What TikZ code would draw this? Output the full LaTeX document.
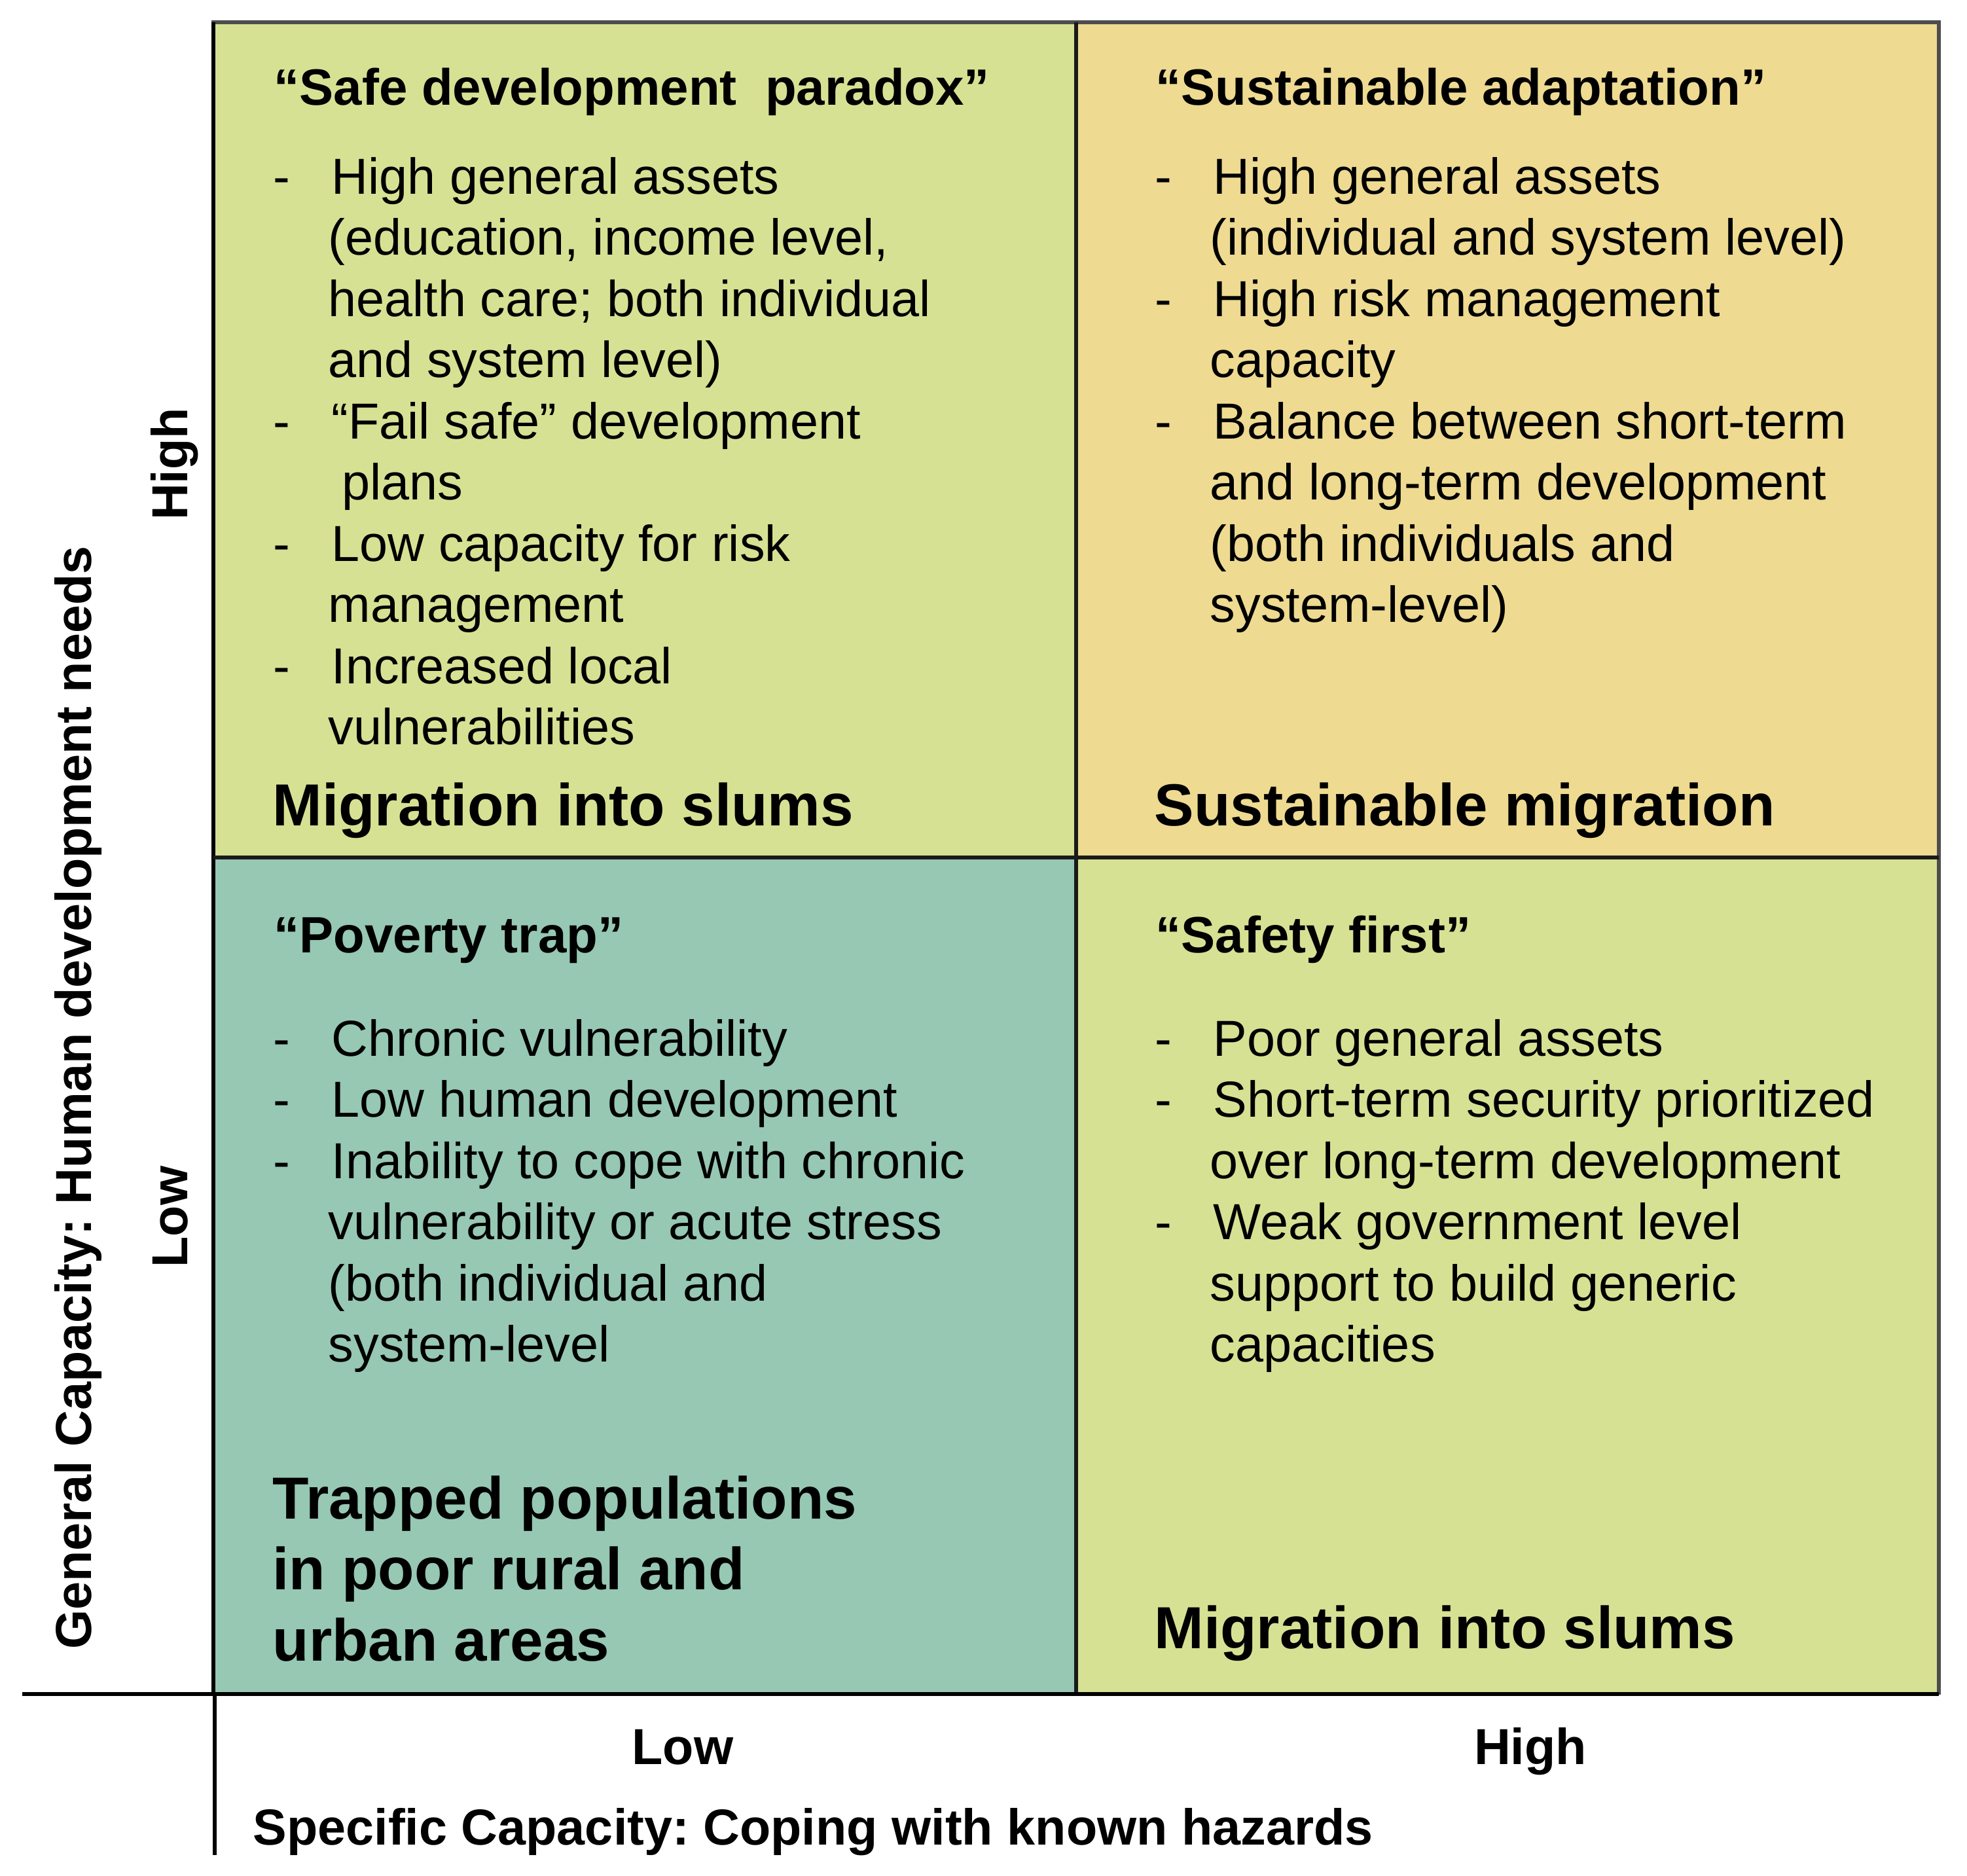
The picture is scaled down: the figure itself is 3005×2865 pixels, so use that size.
\documentclass[tikz,border=0pt]{standalone}
\usepackage{fontspec}
\setmainfont{Liberation Sans}
\frenchspacing
\definecolor{cgreen}{RGB}{215,225,147}
\definecolor{cyellow}{RGB}{238,218,145}
\definecolor{cteal}{RGB}{150,200,180}
\definecolor{cgray}{RGB}{77,77,77}
\definecolor{cdark}{RGB}{26,26,26}
\begin{document}
\frenchspacing
\begin{tikzpicture}[x=0.01cm,y=-0.01cm,
  body/.style={anchor=base west,inner sep=0,font=\fontsize{22pt}{26pt}\selectfont},
  ttl/.style={anchor=base west,inner sep=0,font=\bfseries\fontsize{22.2pt}{26pt}\selectfont},
  big/.style={anchor=base west,inner sep=0,font=\bfseries\fontsize{25.8pt}{30pt}\selectfont},
  axl/.style={anchor=base,inner sep=0,font=\bfseries\fontsize{22pt}{26pt}\selectfont},
  frame/.style={line width=1.8pt}]
\useasboundingbox (0,0) rectangle (3005,2865);
% quadrants
\fill[cgreen]  (326,34)   rectangle (1644,1310);
\fill[cyellow] (1644,34)  rectangle (2962,1310);
\fill[cteal]   (326,1310) rectangle (1644,2586);
\fill[cgreen]  (1644,1310) rectangle (2962,2586);
% frame
\coordinate (tl) at (326,34);
\coordinate (tr) at (2962,34);
\coordinate (br) at (2962,2586);
\coordinate (bl) at (326,2586);
\coordinate (mt) at (1644,34);
\coordinate (mb) at (1644,2586);
\coordinate (ml) at (326,1310);
\coordinate (mr) at (2962,1310);
\draw[frame,cgray,line cap=rect] (tl) -- (tr) -- (br);
\draw[frame,black] (tl) -- (bl);
\draw[frame,cdark] (mt) -- (mb);
\draw[frame,cdark] (ml) -- (mr);
% axes
\coordinate (xa0) at (34,2588);
\coordinate (xa1) at (2962,2588);
\coordinate (ya0) at (328,2586);
\coordinate (ya1) at (328,2834);
\draw[frame,black] (xa0) -- (xa1);
\draw[frame,black] (ya0) -- (ya1);

% ---------- top left ----------
\node[ttl] (tlt) at (418,160) {“Safe development~~paradox”};
\node[body] (tld1) at (417,296) {-};
\node[body] (tl1) at (506,296) {High general assets};
\node[body] (tl2) at (501,389) {(education, income level,};
\node[body] (tl3) at (501,483) {health care; both individual};
\node[body] (tl4) at (501,576) {and system level)};
\node[body] (tld2) at (417,670) {-};
\node[body] (tl5) at (506,670) {“Fail safe” development};
\node[body] (tl6) at (522,763) {plans};
\node[body] (tld3) at (417,857) {-};
\node[body] (tl7) at (506,857) {Low capacity for risk};
\node[body] (tl8) at (501,950) {management};
\node[body] (tld4) at (417,1044) {-};
\node[body] (tl9) at (506,1044) {Increased local};
\node[body] (tl10) at (501,1137) {vulnerabilities};
\node[big] (tlb) at (416,1261) {Migration into slums};

% ---------- top right ----------
\node[ttl] (trt) at (1765,160) {“Sustainable adaptation”};
\node[body] (trd1) at (1764,296) {-};
\node[body] (tr1) at (1853,296) {High general assets};
\node[body] (tr2) at (1848,389) {(individual and system level)};
\node[body] (trd2) at (1764,483) {-};
\node[body] (tr3) at (1853,483) {High risk management};
\node[body] (tr4) at (1848,576) {capacity};
\node[body] (trd3) at (1764,670) {-};
\node[body] (tr5) at (1853,670) {Balance between short-term};
\node[body] (tr6) at (1848,763) {and long-term development};
\node[body] (tr7) at (1848,857) {(both individuals and};
\node[body] (tr8) at (1848,950) {system-level)};
\node[big] (trb) at (1763,1261) {Sustainable migration};

% ---------- bottom left ----------
\node[ttl] (blt) at (418,1455) {“Poverty trap”};
\node[body] (bld1) at (417,1613) {-};
\node[body] (bl1) at (506,1613) {Chronic vulnerability};
\node[body] (bld2) at (417,1706) {-};
\node[body] (bl2) at (506,1706) {Low human development};
\node[body] (bld3) at (417,1800) {-};
\node[body] (bl3) at (506,1800) {Inability to cope with chronic};
\node[body] (bl4) at (501,1893) {vulnerability or acute stress};
\node[body] (bl5) at (501,1987) {(both individual and};
\node[body] (bl6) at (501,2080) {system-level};
\node[big] (blb1) at (416,2320) {Trapped populations};
\node[big] (blb2) at (416,2428) {in poor rural and};
\node[big] (blb3) at (416,2537) {urban areas};

% ---------- bottom right ----------
\node[ttl] (brt) at (1765,1455) {“Safety first”};
\node[body] (brd1) at (1764,1613) {-};
\node[body] (br1) at (1853,1613) {Poor general assets};
\node[body] (brd2) at (1764,1706) {-};
\node[body] (br2) at (1853,1706) {Short-term security prioritized};
\node[body] (br3) at (1848,1800) {over long-term development};
\node[body] (brd3) at (1764,1893) {-};
\node[body] (br4) at (1853,1893) {Weak government level};
\node[body] (br5) at (1848,1987) {support to build generic};
\node[body] (br6) at (1848,2080) {capacities};
\node[big] (brb) at (1763,2518) {Migration into slums};

% ---------- axis labels ----------
\node[axl] (xlow) at (1043,2695) {Low};
\node[axl] (xhigh) at (2338,2695) {High};
\node[axl,anchor=base west] (xtitle) at (386,2818) {Specific Capacity: Coping with known hazards};
\node[axl,rotate=90] (yhigh) at (286,709) {High};
\node[axl,rotate=90] (ylow) at (286,1859) {Low};
\node[axl,rotate=90] (ytitle) at (139,1677) {General Capacity: Human development needs};
\end{tikzpicture}
\end{document}
